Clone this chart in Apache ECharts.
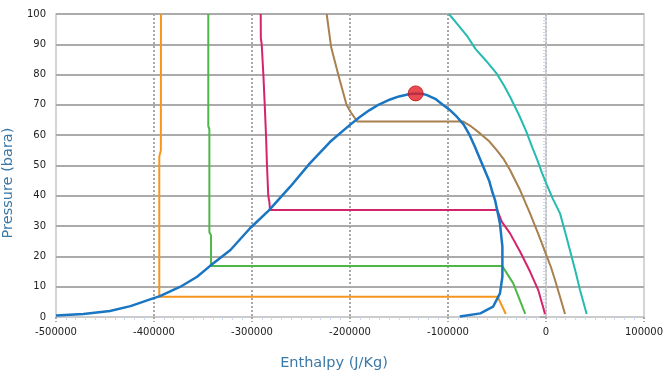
<!DOCTYPE html>
<html>
<head>
<meta charset="utf-8">
<script src="https://cdn.jsdelivr.net/npm/echarts@6/dist/echarts.min.js"></script>
<style>html,body{margin:0;padding:0;background:#fff}#chart{width:666px;height:374px}</style>
</head>
<body>
<div id="chart"></div>
<script>
// Tick settings
var xTicks = [-500000, -400000, -300000, -200000, -100000, 0, 100000];
var yTicks = [0, 10, 20, 30, 40, 50, 60, 70, 80, 90, 100];

// Saturation dome [enthalpy, pressure]
var dome = [[-500000,0.5],[-472000,1.0],[-445000,2.0],[-424000,3.6],[-404000,5.8],[-394000,6.9],[-373000,10.0],[-356000,13.3],[-343000,16.8],[-322000,22.1],[-302000,29.3],[-283000,35.1],[-261000,43.0],[-241000,50.7],[-220000,57.9],[-200000,63.4],[-190000,66.0],[-180000,68.3],[-170000,70.2],[-159000,71.8],[-150000,72.8],[-139000,73.6],[-133000,73.8],[-127000,73.7],[-122000,73.3],[-113000,72.0],[-105000,70.0],[-98000,68.3],[-91000,66.1],[-84000,63.5],[-78000,60.1],[-73000,56.5],[-64000,49.6],[-58000,45.0],[-55000,41.5],[-52000,38.6],[-47000,30.9],[-44500,23.2],[-44500,13.3],[-47000,7.8],[-54000,3.4],[-67000,1.2],[-88000,0.2]];

// Isotherms
var isoOrange = [[-392900,100],[-393000,55],[-394600,53],[-394600,6.7],[-49300,6.7],[-41000,1.0]];
var isoGreen = [[-344600,100],[-344600,63],[-343500,62],[-343500,28],[-341800,27],[-341800,16.8],[-44600,16.8],[-33400,11.1],[-21200,1.0]];
var isoMagenta = [[-291100,100],[-291000,92],[-290100,90],[-288400,80],[-287000,70],[-285700,60],[-284700,50],[-283400,40],[-282300,38],[-281600,35.3],[-49700,35.3],[-45200,31.5],[-36700,27.6],[-26500,21.6],[-16300,15.0],[-7900,8.9],[-1000,1.0]];
var isoBrown = [[-223800,100],[-219200,89],[-212000,80],[-203500,70],[-199000,67.5],[-192500,64.5],[-84400,64.5],[-76000,62.8],[-67300,60.6],[-58000,58.0],[-50300,55.1],[-43000,52.0],[-36700,48.5],[-26500,41.9],[-16300,34.2],[-8000,27.5],[-1000,21.6],[5000,16.5],[9200,12.2],[14000,7.0],[19400,1.0]];
var isoTeal = [[-99000,100],[-90000,96.5],[-80000,92.5],[-72000,88.5],[-61000,84.5],[-50500,80.4],[-43000,76.5],[-36700,72.7],[-28000,67],[-20500,61.5],[-14000,56],[-8500,51.5],[-4000,47.5],[1000,43.5],[7000,39],[14300,34.2],[20000,27.5],[26200,19.9],[30500,14.5],[34700,8.9],[41500,1.0]];

// Critical point
var critical = [[-133000,73.8]];

var chart = echarts.init(document.getElementById('chart'), null, {renderer:'canvas'});
var labelFont = {fontFamily:'DejaVu Sans', fontSize:10, color:'#222'};
function lineSeries(name, data, color, width, z){
  return {name:name, type:'line', data:data, showSymbol:false, symbol:'none',
    lineStyle:{color:color, width:width}, z:z, animation:false, silent:true};
}
chart.setOption({
  animation:false,
  backgroundColor:'#fff',
  grid:{left:56, right:22, top:14, bottom:57, containLabel:false, outerBoundsMode:'none',
    show:true, borderColor:'#c8c8c8', borderWidth:1.5, backgroundColor:'transparent'},
  xAxis:{
    type:'value', min:xTicks[0], max:xTicks[xTicks.length-1], interval:100000,
    name:'Enthalpy (J/Kg)', nameLocation:'middle', nameGap:39,
    nameTextStyle:{fontFamily:'DejaVu Sans', fontSize:14.5, color:'#3a78a8', padding:[0,32,0,0]},
    axisLine:{show:true, lineStyle:{color:'#c8c8c8', width:1.5}},
    axisTick:{show:true, length:5, lineStyle:{color:'#a8a8a8', width:2, type:[2,2]}},
    minorTick:{show:true, splitNumber:10, length:3, lineStyle:{color:'#c9d8ec', width:1}},
    axisLabel:Object.assign({margin:10, formatter:function(v){return String(v);}}, labelFont),
    splitLine:{show:true, showMinLine:false, showMaxLine:false, lineStyle:{color:'#a8a8a8', width:2, type:[2,2]}}
  },
  yAxis:{
    type:'value', min:yTicks[0], max:yTicks[yTicks.length-1], interval:10,
    name:'Pressure (bara)', nameLocation:'middle', nameGap:34,
    nameTextStyle:{fontFamily:'DejaVu Sans', fontSize:14.5, color:'#3a78a8', padding:[0,35,0,0]},
    axisLine:{show:true, lineStyle:{color:'#c8c8c8', width:1.5}},
    axisTick:{show:true, length:6, lineStyle:{color:'#ababab', width:2}},
    minorTick:{show:true, splitNumber:10, length:3, lineStyle:{color:'#c9d8ec', width:1}},
    axisLabel:Object.assign({margin:10, formatter:function(v){return String(v);}}, labelFont),
    splitLine:{show:true, showMinLine:false, lineStyle:{color:'#ababab', width:2}}
  },
  series:[
    lineSeries('T1', isoOrange, '#f7951d', 2, 2),
    lineSeries('T2', isoGreen, '#4db847', 2, 2),
    lineSeries('T3', isoMagenta, '#d4246c', 2, 2),
    lineSeries('T4', isoBrown, '#a9804f', 2, 2),
    lineSeries('T5', isoTeal, '#25bbb0', 2, 2),
    lineSeries('Saturation', dome, '#1a76c2', 2.5, 3),
    {name:'Critical point', type:'scatter', data:critical, symbol:'circle', symbolSize:15,
      itemStyle:{color:'#e41e26', borderColor:'#b8141c', borderWidth:1}, z:5, animation:false, silent:true}
  ]
});
</script>
</body>
</html>
